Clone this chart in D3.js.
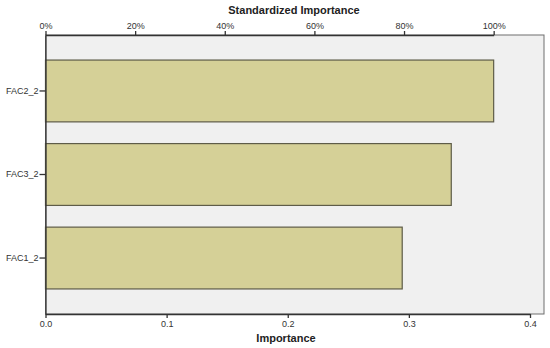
<!DOCTYPE html>
<html>
<head>
<meta charset="utf-8">
<script src="https://cdn.jsdelivr.net/npm/d3@7"></script>
<style>
  body { margin: 0; background: #fff; }
  text { font-family: "Liberation Sans", Arial, sans-serif; }
</style>
</head>
<body>
<div id="chart"></div>
<script>
// variable importance data
const factors = ["FAC2_2", "FAC3_2", "FAC1_2"];
const importance = [0.370, 0.335, 0.2945];
const impTicks = [0, 0.1, 0.2, 0.3, 0.4];
const pctTicks = [0, 0.2, 0.4, 0.6, 0.8, 1.0];

const width = 550, height = 348;
const margin = {top: 35, right: 6, bottom: 34, left: 45.5};

const svg = d3.select("#chart").append("svg")
    .attr("width", width)
    .attr("height", height);

const x = d3.scaleLinear()
    .domain([0, 0.4])
    .range([margin.left, 530]);

// standardized scale: 100% = largest importance
const maxImp = d3.max(importance);
const xPct = d3.scaleLinear()
    .domain([0, 1])
    .range([x(0), x(maxImp)]);

const y = d3.scaleBand()
    .domain(factors)
    .range([margin.top, height - margin.bottom])
    .paddingInner(0.26)
    .paddingOuter(0.3);

// plot background
svg.append("rect")
    .attr("x", margin.left)
    .attr("y", margin.top)
    .attr("width", width - margin.right - margin.left)
    .attr("height", height - margin.bottom - margin.top)
    .attr("fill", "#f0f0f0")
    .attr("stroke", "#6e6e6e")
    .attr("stroke-width", 1);

// bars
svg.append("g")
    .selectAll("rect")
    .data(factors)
    .join("rect")
    .attr("x", x(0))
    .attr("y", d => y(d))
    .attr("width", (d, i) => x(importance[i]) - x(0))
    .attr("height", y.bandwidth())
    .attr("fill", "#d5d097")
    .attr("stroke", "#5e5c48")
    .attr("stroke-width", 1.2);

// bottom axis
const axBottom = svg.append("g")
    .attr("transform", `translate(0,${height - margin.bottom})`)
    .call(d3.axisBottom(x).tickValues(impTicks).tickFormat(d3.format(".1f")).tickSize(4).tickSizeOuter(0));

// top axis
const axTop = svg.append("g")
    .attr("transform", `translate(0,${margin.top})`)
    .call(d3.axisTop(xPct).tickValues(pctTicks).tickFormat(d3.format(".0%")).tickSize(4).tickSizeOuter(0));

// left axis
const axLeft = svg.append("g")
    .attr("transform", `translate(${margin.left},0)`)
    .call(d3.axisLeft(y).tickSize(6).tickSizeOuter(0));

[axBottom, axTop, axLeft].forEach(g => {
    g.select(".domain").attr("stroke", "#333").attr("stroke-width", 1.3);
    g.selectAll(".tick line").attr("stroke", "#333").attr("stroke-width", 1.3);
    g.selectAll(".tick text").attr("fill", "#333").style("font-size", "9px");
});
axLeft.selectAll(".tick text").attr("x", -7);
axBottom.selectAll(".tick text").attr("y", 7);
axTop.selectAll(".tick text").attr("y", -6);

// axis titles
svg.append("text")
    .attr("x", 294)
    .attr("y", 14)
    .attr("text-anchor", "middle")
    .style("font-size", "11px")
    .style("font-weight", "bold")
    .attr("fill", "#222")
    .text("Standardized Importance");

svg.append("text")
    .attr("x", 286)
    .attr("y", 342)
    .attr("text-anchor", "middle")
    .style("font-size", "11px")
    .style("font-weight", "bold")
    .attr("fill", "#222")
    .text("Importance");
</script>
</body>
</html>
